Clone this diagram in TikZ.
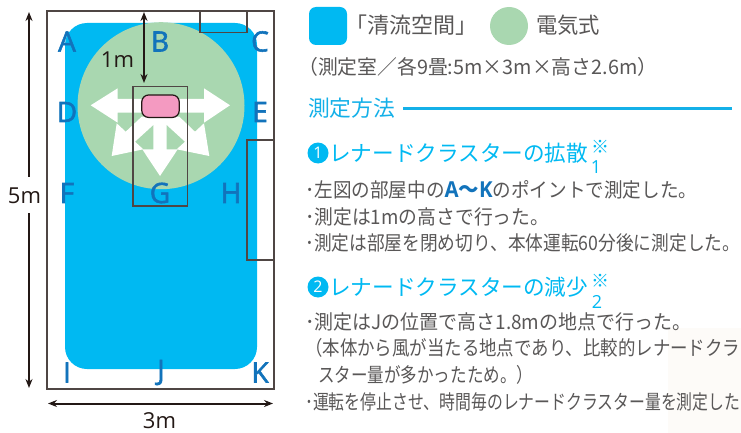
\documentclass[tikz,border=0pt]{standalone}
\usepackage{fontspec}
\usetikzlibrary{arrows.meta}
\newfontfamily\jp{Noto Sans CJK JP}
\newfontfamily\lat{Open Sans}
\newfontfamily\latm[FakeBold=2]{Open Sans}
\definecolor{seiryu}{HTML}{00B9F2}
\definecolor{denki}{HTML}{A9D7B0}
\definecolor{letterblue}{HTML}{1273BB}
\definecolor{txt}{HTML}{595757}
\definecolor{ink}{HTML}{231815}
\definecolor{pinkdev}{HTML}{F49AC1}
\definecolor{headblue}{HTML}{14B0E8}
\definecolor{faint}{HTML}{FDFBF8}
\newcommand{\fitw}[2]{\resizebox{#1pt}{\height}{#2}}
\tikzset{
  ptlabel/.style={inner sep=0pt,text=letterblue,font=\latm\fontsize{28}{28}\selectfont},
  dimlabel/.style={inner sep=0pt,text=ink,font=\lat\fontsize{22}{22}\selectfont},
  bodytext/.style={inner sep=0pt,anchor=base west,text=txt,font=\jp\fontsize{20}{20}\selectfont},
  headtext/.style={inner sep=0pt,anchor=base west,text=seiryu,font=\jp\fontsize{22}{22}\selectfont},
  legendtext/.style={bodytext,font=\jp\fontsize{22}{22}\selectfont},
  dimarrow/.style={draw=ink,line width=2pt,-{Stealth[length=9pt,width=7pt]}},
  dimboth/.style={draw=ink,line width=2pt,{Stealth[length=9pt,width=7pt]}-{Stealth[length=9pt,width=7pt]}},
  wallbox/.style={draw=ink!80,line width=1.3pt},
  flow/.style={fill=white,draw=none},
  numdisc/.style={circle,fill=seiryu,minimum size=21pt,inner sep=0pt,text=white,font=\lat\fontsize{16}{16}\selectfont},
  refmark/.style={inner sep=0pt,text=seiryu,font=\jp\fontsize{18}{18}\selectfont},
  refnum/.style={inner sep=0pt,text=seiryu,font=\lat\fontsize{18}{18}\selectfont}
}
\begin{document}
\begin{tikzpicture}[x=1pt,y=-1pt]
\useasboundingbox (0,0) rectangle (741,433);
\fill[faint] (668,328) rectangle (741,433);
% room
\fill[seiryu,rounded corners=22pt] (65,23) rectangle (257,369);
\fill[denki] (161,105.7) circle[radius=83.5];
\draw[wallbox] (47,11) rectangle (274,389);
\draw[wallbox] (200,11) rectangle (247,32.5);
\draw[wallbox] (274,140) -- (247,140) -- (247,260) -- (274,260);
% airflow
\fill[flow] (90.7,105.3) -- (117.7,88.3) -- (117.7,99) -- (204,99) -- (204,88.3) -- (230,105.3) -- (204,122.7) -- (204,112.7) -- (117.7,112.7) -- (117.7,122.7) -- cycle;
\fill[flow] (141.7,116.7) -- (125.7,131.7) -- (116.7,123.3) -- (111.7,156) -- (143.3,149.3) -- (135,141.7) -- (153.3,125) -- (166.7,125) -- (185,141.7) -- (176.7,149.3) -- (209.3,156) -- (204,123.3) -- (195,131.7) -- (179.3,116.7) -- cycle;
\fill[flow] (153.3,120) -- (166.7,120) -- (166.7,149.3) -- (177.7,149.3) -- (160,176) -- (142.3,149.3) -- (153.3,149.3) -- cycle;
\draw[wallbox] (133,86.5) rectangle (187.5,206);
\node[draw=ink,line width=1.2pt,fill=pinkdev,rounded corners=7pt,minimum width=37.5pt,minimum height=22.5pt,inner sep=0pt] (dev) at (160.5,106.2) {};
% point labels
\foreach \n/\t/\x/\y in {a/A/67/41.5,b/B/160/41.5,c/C/260/41.5,d/D/67/112,e/E/260/112,f/F/67/193,g/G/160/193,h/H/231/193,i/I/67/372.5,j/J/161/372.5,k/K/260/372.5}
  \node[ptlabel] (pt\n) at (\x,\y) {\t};
% dimensions
\coordinate (fivetop) at (29,12);
\coordinate (fivebot) at (29,388);
\coordinate (fivegapa) at (29,176.5);
\coordinate (fivegapb) at (29,213);
\node[dimlabel] (five) at (24.5,195.5) {5m};
\draw[dimarrow] (fivegapa) -- (fivetop);
\draw[dimarrow] (fivegapb) -- (fivebot);
\coordinate (onetop) at (144,12);
\coordinate (onebot) at (144,83);
\draw[dimboth] (onetop) -- (onebot);
\node[dimlabel] (one) at (117.5,60) {1m};
\coordinate (threeL) at (48,403.5);
\coordinate (threeR) at (273,403.5);
\draw[dimboth] (threeL) -- (threeR);
\node[dimlabel] (three) at (159.5,421) {3m};
% legend
\node[fill=seiryu,rounded corners=7pt,minimum size=38pt,inner sep=0pt] (legA) at (328,26) {};
\node[legendtext] (legAt) at (345,33.5) {\fitw{132}{「清流空間」}};
\node[circle,fill=denki,minimum size=38pt,inner sep=0pt] (legB) at (509,26) {};
\node[legendtext] (legBt) at (536,33.5) {\fitw{64}{電気式}};
\node[bodytext] (spec) at (298,75) {\fitw{359}{（測定室／各9畳:5m×3m×高さ2.6m）}};
% method heading
\node[headtext,text=headblue] (method) at (308,116) {\fitw{87}{測定方法}};
\coordinate (ruleEnd) at (732,108.5);
\draw[headblue,line width=3pt] (403,108.5) -- (ruleEnd);
% section 1
\node[numdisc] (n1) at (318,153) {1};
\node[headtext] (h1) at (329,161.5) {\fitw{259}{レナードクラスターの拡散}};
\node[refmark] (m1) at (600,147) {※};
\node[refnum] (s1) at (596,167) {1};
\node[bodytext] (l1) at (305,197.5) {\fitw{392}{･左図の部屋中の{\color{letterblue}\fontsize{22}{22}\selectfont{\lat\bfseries A}{\jp\bfseries 〜}{\lat\bfseries K}}のポイントで測定した。}};
\node[bodytext] (l2) at (305,224) {\fitw{244}{･測定は1mの高さで行った。}};
\node[bodytext] (l3) at (305,250) {\fitw{435}{･測定は部屋を閉め切り、本体運転60分後に測定した。}};
% section 2
\node[numdisc] (n2) at (318,287) {2};
\node[headtext] (h2) at (329,295.5) {\fitw{259}{レナードクラスターの減少}};
\node[refmark] (m2) at (600,281) {※};
\node[refnum] (s2) at (597,302) {2};
\node[bodytext] (l4) at (305,329) {\fitw{386}{･測定はJの位置で高さ1.8mの地点で行った。}};
\node[bodytext] (l5) at (305,355) {\fitw{435}{（本体から風が当たる地点であり、比較的レナードクラ}};
\node[bodytext] (l6) at (318,382) {\fitw{215}{スター量が多かったため。）}};
\node[bodytext] (l7) at (305,409) {\fitw{435}{･運転を停止させ、時間毎のレナードクラスター量を測定した}};
\end{tikzpicture}
\end{document}
